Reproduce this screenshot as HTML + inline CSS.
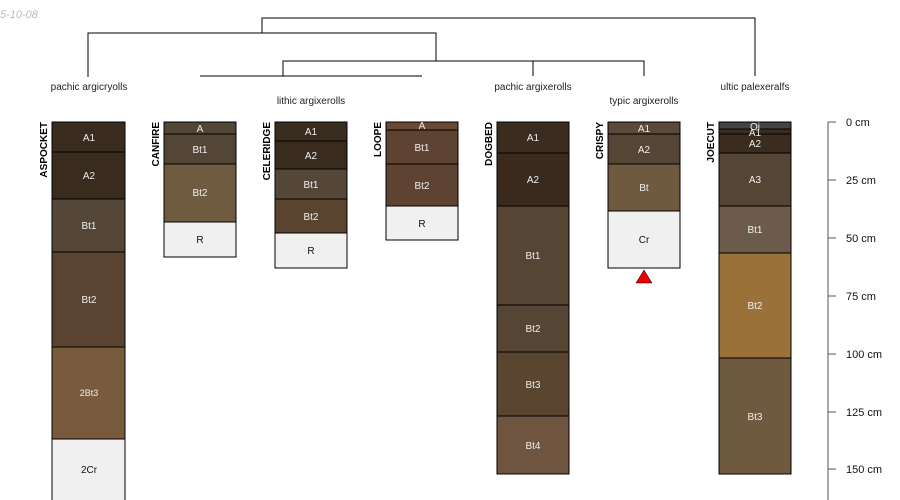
<!DOCTYPE html>
<html><head><meta charset="utf-8"><style>body{margin:0;background:#fff}svg{display:block}text{font-family:"Liberation Sans",sans-serif}</style></head><body>
<svg width="900" height="500" viewBox="0 0 900 500">
<text x="0" y="18" font-size="11" fill="#bbb" font-style="italic">5-10-08</text>
<g stroke="#000" stroke-width="1" fill="none">
<path d="M262 33V18H755V76"/>
<path d="M88 77V33H436V61"/>
<path d="M283 76V61H644V76"/>
<path d="M533 61V76"/>
<path d="M200 76H422"/>
</g>
<g font-size="10" fill="#222" text-anchor="middle">
<text x="89" y="90">pachic argicryolls</text>
<text x="311" y="104">lithic argixerolls</text>
<text x="533" y="90">pachic argixerolls</text>
<text x="644" y="104">typic argixerolls</text>
<text x="755" y="90">ultic palexeralfs</text>
</g>
<g stroke="#000" stroke-width="1" font-size="10" text-anchor="middle">
<!-- ASPOCKET -->
<rect x="52" y="122" width="73" height="30" fill="#3b2c20"/>
<rect x="52" y="152" width="73" height="47" fill="#3a2b1f"/>
<rect x="52" y="199" width="73" height="53" fill="#554738"/>
<rect x="52" y="252" width="73" height="95" fill="#5a4330"/>
<rect x="52" y="347" width="73" height="92" fill="#7a5a3c"/>
<rect x="52" y="439" width="73" height="70" fill="#f0f0f0"/>
<!-- CANFIRE -->
<rect x="164" y="122" width="72" height="12" fill="#544636"/>
<rect x="164" y="134" width="72" height="30" fill="#544636"/>
<rect x="164" y="164" width="72" height="58" fill="#6f5c40"/>
<rect x="164" y="222" width="72" height="35" fill="#f0f0f0"/>
<!-- CELERIDGE -->
<rect x="275" y="122" width="72" height="19" fill="#3b2c20"/>
<rect x="275" y="141" width="72" height="28" fill="#3a2b1f"/>
<rect x="275" y="169" width="72" height="30" fill="#554738"/>
<rect x="275" y="199" width="72" height="34" fill="#5a4430"/>
<rect x="275" y="233" width="72" height="35" fill="#f0f0f0"/>
<!-- LOOPE -->
<rect x="386" y="122" width="72" height="8" fill="#6a4a33"/>
<rect x="386" y="130" width="72" height="34" fill="#5e4232"/>
<rect x="386" y="164" width="72" height="42" fill="#5e4232"/>
<rect x="386" y="206" width="72" height="34" fill="#f0f0f0"/>
<!-- DOGBED -->
<rect x="497" y="122" width="72" height="31" fill="#3b2c20"/>
<rect x="497" y="153" width="72" height="53" fill="#3a2a1e"/>
<rect x="497" y="206" width="72" height="99" fill="#554535"/>
<rect x="497" y="305" width="72" height="47" fill="#554535"/>
<rect x="497" y="352" width="72" height="64" fill="#594530"/>
<rect x="497" y="416" width="72" height="58" fill="#6f5540"/>
<!-- CRISPY -->
<rect x="608" y="122" width="72" height="12" fill="#5a4a3a"/>
<rect x="608" y="134" width="72" height="30" fill="#554535"/>
<rect x="608" y="164" width="72" height="47" fill="#6f5a40"/>
<rect x="608" y="211" width="72" height="57" fill="#f0f0f0"/>
<!-- JOECUT -->
<rect x="719" y="122" width="72" height="7" fill="#444"/>
<rect x="719" y="129" width="72" height="5" fill="#3b2c20"/>
<rect x="719" y="134" width="72" height="19" fill="#3b2c20"/>
<rect x="719" y="153" width="72" height="53" fill="#554535"/>
<rect x="719" y="206" width="72" height="47" fill="#6c5a4a"/>
<rect x="719" y="253" width="72" height="105" fill="#9a7138"/>
<rect x="719" y="358" width="72" height="116" fill="#6f5a40"/>
</g>
<polygon points="644,270 636,283 652,283" fill="#e00" stroke="#000" stroke-width="0.5"/>
<g font-size="10" text-anchor="middle" fill="#eee">
<text x="89" y="141">A1</text><text x="89" y="179">A2</text><text x="89" y="229">Bt1</text><text x="89" y="303">Bt2</text><text x="89" y="396" font-size="9">2Bt3</text><text x="89" y="473" fill="#111">2Cr</text>
<text x="200" y="132">A</text><text x="200" y="153">Bt1</text><text x="200" y="196">Bt2</text><text x="200" y="243" fill="#111">R</text>
<text x="311" y="135">A1</text><text x="311" y="159">A2</text><text x="311" y="188">Bt1</text><text x="311" y="220">Bt2</text><text x="311" y="254" fill="#111">R</text>
<text x="422" y="129">A</text><text x="422" y="151">Bt1</text><text x="422" y="189">Bt2</text><text x="422" y="227" fill="#111">R</text>
<text x="533" y="141">A1</text><text x="533" y="183">A2</text><text x="533" y="259">Bt1</text><text x="533" y="332">Bt2</text><text x="533" y="388">Bt3</text><text x="533" y="449">Bt4</text>
<text x="644" y="132">A1</text><text x="644" y="153">A2</text><text x="644" y="191">Bt</text><text x="644" y="243" fill="#111">Cr</text>
<text x="755" y="130">Oi</text><text x="755" y="136">A1</text><text x="755" y="147">A2</text><text x="755" y="183">A3</text><text x="755" y="233">Bt1</text><text x="755" y="309">Bt2</text><text x="755" y="420">Bt3</text>
</g>
<g font-size="10" font-weight="bold" fill="#000" text-anchor="end">
<text transform="translate(47,122) rotate(-90)">ASPOCKET</text>
<text transform="translate(159,122) rotate(-90)">CANFIRE</text>
<text transform="translate(270,122) rotate(-90)">CELERIDGE</text>
<text transform="translate(381,122) rotate(-90)">LOOPE</text>
<text transform="translate(492,122) rotate(-90)">DOGBED</text>
<text transform="translate(603,122) rotate(-90)">CRISPY</text>
<text transform="translate(714,122) rotate(-90)">JOECUT</text>
</g>
<g stroke="#555" stroke-width="1">
<path d="M828 122V500"/>
<path d="M828 122H836M828 180H836M828 238H836M828 296H836M828 354H836M828 412H836M828 469H836"/>
</g>
<g font-size="11" fill="#111">
<text x="846" y="126">0 cm</text><text x="846" y="184">25 cm</text><text x="846" y="242">50 cm</text><text x="846" y="300">75 cm</text><text x="846" y="358">100 cm</text><text x="846" y="416">125 cm</text><text x="846" y="473">150 cm</text>
</g>
</svg>
</body></html>
